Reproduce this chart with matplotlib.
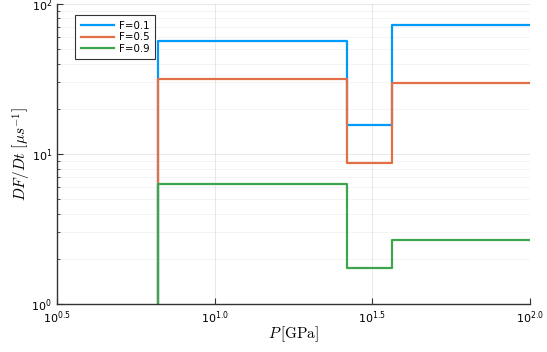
import numpy as np
import matplotlib
matplotlib.use('Agg')
import matplotlib.pyplot as plt
from matplotlib.ticker import FixedLocator, LogLocator, NullFormatter

plt.rcParams['mathtext.fontset'] = 'cm'
plt.rcParams['font.family'] = ['DejaVu Sans']

# pressure breakpoints [GPa]
P = [6.62, 6.62, 26.2, 36.4, 100.0]
labels = ['F=0.1', 'F=0.5', 'F=0.9']
rate_01 = [1e-3, 56.6, 15.6, 72.0, 72.0]
rate_05 = [1e-3, 31.6, 8.7, 29.7, 29.7]
rate_09 = [1e-3, 6.3, 1.74, 2.67, 2.67]
colors = ['#009AFA', '#E36F47', '#3EA44E']

fig = plt.figure(figsize=(5.47, 3.52), dpi=100)
ax = fig.add_axes([0.104, 0.136, 0.865, 0.853])

for r, lab, c in zip([rate_01, rate_05, rate_09], labels, colors):
    ax.plot(P, r, drawstyle='steps-post', color=c, lw=1.6, label=lab)

ax.set_xscale('log')
ax.set_yscale('log')
ax.set_xlim(10**0.5, 10**2.0)
ax.set_ylim(1, 100)

xt = [0.5, 1.0, 1.5, 2.0]
ax.xaxis.set_major_locator(FixedLocator([10**v for v in xt]))
ax.set_xticklabels([r'$\mathdefault{10^{%.1f}}$' % v for v in xt])
ax.xaxis.set_minor_locator(FixedLocator([]))
ax.yaxis.set_major_locator(FixedLocator([1, 10, 100]))
ax.set_yticklabels([r'$\mathdefault{10^{0}}$', r'$\mathdefault{10^{1}}$', r'$\mathdefault{10^{2}}$'])
ax.yaxis.set_minor_locator(LogLocator(base=10, subs=np.arange(2, 10)))
ax.yaxis.set_minor_formatter(NullFormatter())

ax.tick_params(which='major', direction='in', length=4, width=0.8, colors='#333333', labelsize=8, labelcolor='black')
ax.tick_params(which='minor', direction='in', length=2, width=0.6, colors='#333333')

ax.grid(which='major', color='black', alpha=0.1, lw=0.6)
ax.grid(which='minor', axis='y', color='black', alpha=0.05, lw=0.6)

for s in ['top', 'right']:
    ax.spines[s].set_visible(False)
for s in ['left', 'bottom']:
    ax.spines[s].set_color('#333333')
    ax.spines[s].set_linewidth(1.0)

ax.set_xlabel(r'$P\,[\mathrm{GPa}]$', fontsize=11)
ax.set_ylabel(r'$DF/Dt\ \left[\mu s^{-1}\right]$', fontsize=11)
ax.xaxis.set_label_coords(0.5, -0.067)
ax.yaxis.set_label_coords(-0.051, 0.5)

leg = ax.legend(loc='upper left', fontsize=7.4, frameon=True, fancybox=False,
                edgecolor='black', borderpad=0.55, handlelength=3.3,
                handletextpad=0.45, labelspacing=0.15, borderaxespad=0,
                bbox_to_anchor=(0.038, 0.963))
leg.get_frame().set_linewidth(0.8)

fig.savefig('out.png', dpi=100)
